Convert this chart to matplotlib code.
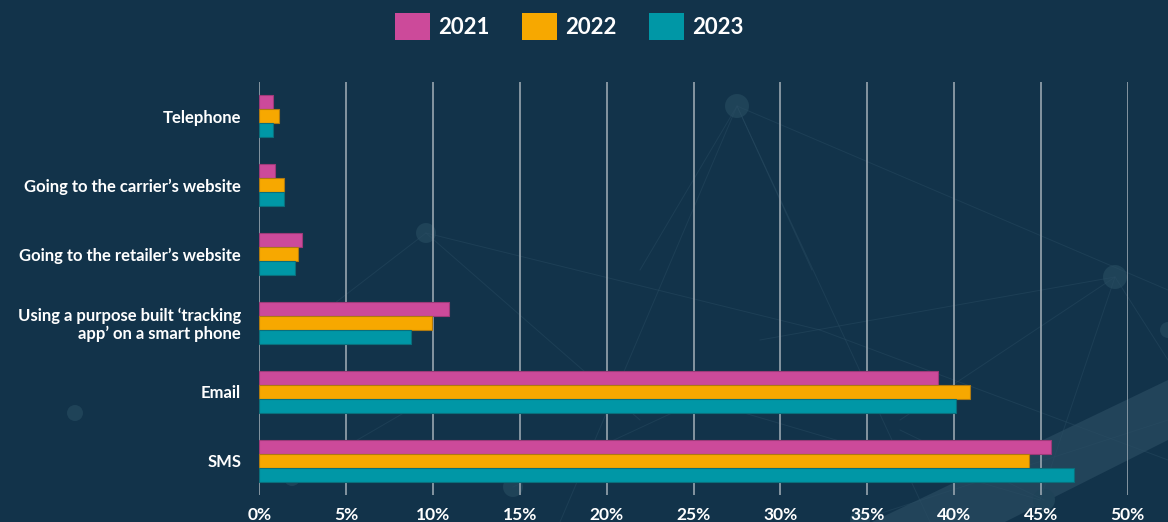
import matplotlib
matplotlib.use("Agg")
import matplotlib.pyplot as plt
import numpy as np
from matplotlib.patches import Rectangle, Circle, Polygon

categories = [
    "Telephone",
    "Going to the carrier\u2019s website",
    "Going to the retailer\u2019s website",
    "Using a purpose built \u2018tracking\napp\u2019 on a smart phone",
    "Email",
    "SMS",
]
years = ["2021", "2022", "2023"]
values_2021 = [0.8, 0.9, 2.45, 10.95, 39.05, 45.6]
values_2022 = [1.15, 1.45, 2.2, 9.95, 40.9, 44.3]
values_2023 = [0.8, 1.45, 2.05, 8.75, 40.1, 46.9]
xticks = [0, 5, 10, 15, 20, 25, 30, 35, 40, 45, 50]
xtick_labels = [f"{t}%" for t in xticks]

colors = ["#cc4a9a", "#f7a800", "#0097a6"]
edges = ["#9c3a78", "#b07a10", "#0a6f7c"]
BG = "#12334a"

plt.rcParams["font.family"] = ["Lato", "DejaVu Sans"]

W, H = 1168, 522
fig = plt.figure(figsize=(W / 100, H / 100), dpi=100, facecolor=BG)

# background decoration layer (pixel coordinates)
bg = fig.add_axes([0, 0, 1, 1], zorder=-5)
bg.set_xlim(0, W)
bg.set_ylim(H, 0)
bg.axis("off")
bg.set_facecolor(BG)
deco = "#2a4d63"
bg.add_patch(Polygon([(872, 522), (1168, 380), (1168, 440), (1005, 522)],
                     closed=True, facecolor="#22445a", edgecolor="none"))
nodes = [(737, 106), (426, 233), (1115, 277), (75, 413), (513, 487),
         (1044, 500), (292, 478), (860, 520), (1168, 330)]
links = [((737, 106), (640, 270)), ((737, 106), (560, 522)),
         ((737, 106), (812, 270)), ((737, 106), (930, 522)),
         ((737, 106), (1168, 290)), ((426, 233), (820, 330)),
         ((426, 233), (300, 330)), ((426, 233), (640, 420)),
         ((1115, 277), (900, 420)), ((1115, 277), (1168, 360)),
         ((1115, 277), (1040, 500)), ((1115, 277), (760, 340)),
         ((513, 487), (700, 400)), ((1044, 500), (900, 430)),
         ((860, 520), (1168, 420)), ((292, 478), (426, 400)),
         ((820, 330), (1168, 460)), ((700, 400), (1040, 500))]
for (a, b) in links:
    bg.plot([a[0], b[0]], [a[1], b[1]], color=deco, lw=0.7, alpha=0.45)
for i, (cx, cy) in enumerate(nodes):
    r = [12, 10, 12, 8, 10, 11, 8, 10, 8][i]
    bg.add_patch(Circle((cx, cy), r, facecolor="#1f4358", edgecolor="none"))

# main axes
left, right = 259.3 / W, 1127.7 / W
top, bottom = 1 - 82 / H, 1 - 495 / H
ax = fig.add_axes([left, bottom, right - left, top - bottom])
ax.set_facecolor("none")

y = np.arange(len(categories))
h = 0.204
for i, (vals, c, e) in enumerate(zip([values_2021, values_2022, values_2023], colors, edges)):
    ax.barh(y + (i - 1) * h, vals, height=h, color=c, edgecolor=e,
            linewidth=0.8, label=years[i], zorder=3)

ax.set_xlim(0, 50)
ax.set_ylim(len(categories) - 0.5, -0.5)
ax.set_xticks(xticks)
ax.set_xticklabels(xtick_labels)
ax.set_yticks(y)
ax.set_yticklabels(categories, linespacing=1.1)
for s in ax.spines.values():
    s.set_visible(False)
ax.grid(axis="x", color="#8e9da8", linewidth=1.3, zorder=1)
ax.grid(axis="y", visible=False)
ax.tick_params(axis="both", length=0, colors="white")
ax.tick_params(axis="x", pad=9, labelsize=12.5)
ax.tick_params(axis="y", pad=13, labelsize=12)
for lab in ax.get_xticklabels() + ax.get_yticklabels():
    lab.set_fontweight("bold")
    lab.set_color("white")
for lab in ax.get_yticklabels():
    lab.set_horizontalalignment("right")
    lab.set_multialignment("right")

handles = [Rectangle((0, 0), 1, 1, facecolor=c, edgecolor="none") for c in colors]
leg = fig.legend(handles, years, loc="center", bbox_to_anchor=(569.5 / W, 1 - 26.5 / H),
                 ncol=3, frameon=False, handlelength=1.55, handleheight=1.55,
                 handletextpad=0.4, columnspacing=1.45,
                 prop={"family": ["Lato", "DejaVu Sans"], "weight": "bold", "size": 16})
for t in leg.get_texts():
    t.set_color("white")

fig.savefig("out.png", dpi=100, facecolor=BG)
